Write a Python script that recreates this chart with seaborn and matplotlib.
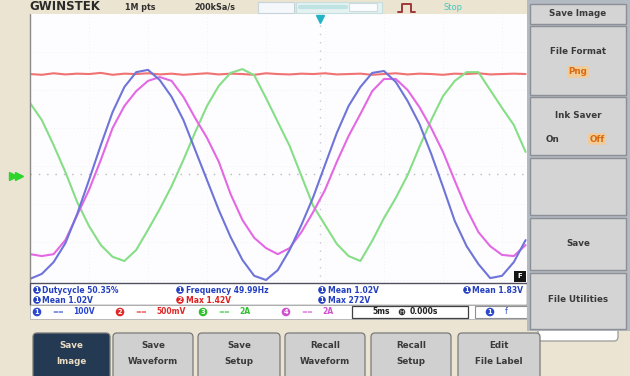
import matplotlib
matplotlib.use("Agg")
import matplotlib.pyplot as plt
import seaborn as sns
import pandas as pd
from matplotlib.patches import Rectangle, FancyBboxPatch, Circle

# ---- data (time in ms, amplitude in divisions) ----
time_ms = list(range(-25, 18))
ch1_blue = [-2.97, -2.84, -2.53, -2.03, -1.26, -0.37, 0.55, 1.42, 2.08, 2.47,
            2.53, 2.26, 1.82, 1.21, 0.42, -0.37, -1.16, -1.87, -2.47, -2.89,
            -3.00, -2.74, -2.21, -1.55, -0.82, 0.03, 0.87, 1.58, 2.08, 2.45,
            2.50, 2.21, 1.71, 1.11, 0.32, -0.55, -1.45, -2.11, -2.58, -2.95,
            -2.89, -2.53, -1.95]
ch2_red = [2.42, 2.40, 2.44, 2.41, 2.43, 2.42, 2.45, 2.40, 2.43, 2.42,
           2.44, 2.41, 2.43, 2.40, 2.42, 2.44, 2.41, 2.43, 2.42, 2.40,
           2.44, 2.42, 2.41, 2.43, 2.42, 2.44, 2.41, 2.42, 2.43, 2.40,
           2.42, 2.44, 2.41, 2.43, 2.42, 2.40, 2.43, 2.42, 2.44, 2.41,
           2.42, 2.43, 2.42]
ch3_green = [1.66, 1.21, 0.55, -0.16, -0.95, -1.58, -2.08, -2.39, -2.50, -2.21,
             -1.68, -1.13, -0.53, 0.16, 0.89, 1.58, 2.11, 2.45, 2.55, 2.39,
             1.79, 1.16, 0.53, -0.26, -1.05, -1.55, -2.05, -2.37, -2.50, -1.97,
             -1.37, -0.84, -0.24, 0.50, 1.21, 1.84, 2.24, 2.47, 2.47, 2.00,
             1.53, 1.08, 0.37]
ch4_magenta = [-2.32, -2.37, -2.32, -1.95, -1.29, -0.63, 0.16, 1.00, 1.58, 1.97,
               2.24, 2.34, 2.24, 1.82, 1.26, 0.74, 0.11, -0.74, -1.42, -1.89,
               -2.16, -2.32, -2.16, -1.74, -1.21, -0.63, 0.11, 0.79, 1.37, 1.97,
               2.29, 2.29, 2.00, 1.55, 1.00, 0.37, -0.39, -1.13, -1.74, -2.11,
               -2.34, -2.37, -2.08]

channel_names = ["CH2", "CH3", "CH4", "CH1"]
channel_colors = {"CH1": "#6e74d8", "CH2": "#f07272", "CH3": "#86de86", "CH4": "#e468e4"}

menu_title = "Save Image"
bottom_buttons = ["Save\nImage", "Save\nWaveform", "Save\nSetup",
                  "Recall\nWaveform", "Recall\nSetup", "Edit\nFile Label"]

frames = []
for name, vals in zip(channel_names, [ch2_red, ch3_green, ch4_magenta, ch1_blue]):
    frames.append(pd.DataFrame({"t": time_ms, "v": vals, "ch": name}))
df = pd.concat(frames, ignore_index=True)

sns.set_style("white")
plt.rcParams["font.family"] = ["DejaVu Sans"]

W, H = 630, 376
fig = plt.figure(figsize=(W / 100, H / 100), dpi=100)
fig.patch.set_facecolor("#ebe4d2")

ax = fig.add_axes([30 / W, 1 - 318 / H, 590 / W, 304 / H])
ax.set_facecolor("#fdfdff")
ax.set_xlim(-25, 25)
ax.set_ylim(-4, 4)
for s in ax.spines.values():
    s.set_visible(False)
ax.set_xticks([])
ax.set_yticks([])

# graticule
for gx in range(-20, 25, 5):
    ax.axvline(gx, color="#eceef4", lw=0.6, ls=(0, (1, 3)), zorder=0)
for gy in range(-3, 4):
    ax.axhline(gy, color="#eceef4", lw=0.6, ls=(0, (1, 3)), zorder=0)
ax.axhline(-0.21, color="#b8b8c0", lw=1.0, ls=(0, (1, 5)), zorder=0)
ax.axvline(-0.4, color="#c8c8d0", lw=1.0, ls=(0, (1, 5)), zorder=0)

sns.lineplot(data=df, x="t", y="v", hue="ch", hue_order=channel_names,
             palette=channel_colors, estimator=None, legend=False,
             linewidth=1.5, ax=ax)
ax.set_xlabel("")
ax.set_ylabel("")

# ---- overlay in pixel coordinates for the instrument UI ----
ov = fig.add_axes([0, 0, 1, 1], zorder=5)
ov.set_xlim(0, W)
ov.set_ylim(H, 0)
ov.axis("off")
ov.patch.set_alpha(0)

def rect(x, y, w, h, fc, ec="none", lw=0.8, z=1):
    ov.add_patch(Rectangle((x, y), w, h, facecolor=fc, edgecolor=ec, lw=lw, zorder=z))

def rbox(x, y, w, h, fc, ec="#9a9a9a", lw=0.8, z=1, r=3):
    ov.add_patch(FancyBboxPatch((x, y), w, h, boxstyle=f"round,pad=0,rounding_size={r}",
                                facecolor=fc, edgecolor=ec, lw=lw, zorder=z))

def badge(x, y, num, color, z=4, r=4.2):
    ov.add_patch(Circle((x, y), r, facecolor=color, edgecolor="none", zorder=z))
    ov.text(x, y + 0.3, num, color="white", fontsize=4.8, fontweight="bold",
            ha="center", va="center", zorder=z + 1)

# left border of the screen
ov.plot([30, 30], [14, 283], color="#8a8a8a", lw=1.0, zorder=2)

# top status bar
rect(30, 0, 497, 14, "#ebe4d0", z=2)
ov.text(29, 6.5, "GWINSTEK", fontsize=8.5, fontweight="bold", color="#2a2a2a",
        ha="left", va="center", zorder=3)
ov.text(125, 7.5, "1M pts", fontsize=5.8, fontweight="bold", color="#303030",
        ha="left", va="center", zorder=3)
ov.text(194, 7.5, "200kSa/s", fontsize=5.8, fontweight="bold", color="#303030",
        ha="left", va="center", zorder=3)
rect(258, 1.5, 36, 11, "#f4f8fb", ec="#c8d2da", z=3)
rect(296, 1.5, 86, 11, "#e4f2f2", ec="#c8dede", z=3)
ov.plot([300, 346], [7, 7], color="#bfe2e2", lw=3, zorder=3.5)
rect(349, 2.5, 28, 8, "#fafcfd", ec="#d0dada", z=3.6)
ov.plot([398, 402, 402, 411, 411, 415], [12, 12, 4, 4, 12, 12],
        color="#a03838", lw=1.4, zorder=3)
ov.text(444, 7.5, "Stop", fontsize=6, color="#42c8c0", ha="left", va="center", zorder=3)
ov.plot([320], [19], marker="v", color="#22b4c4", ms=6, zorder=3)

# channel ground marker on the left
ov.plot([13, 19], [176, 176], ls="none", marker=">", color="#2cd42c", ms=5.5, zorder=3)

# measurement panel
rect(30, 283, 497, 22, "white", ec="#505060", lw=1.0, z=2)
blue_t, red_t = "#2440c0", "#e02020"
meas = [(37, 290, "1", blue_t, "Dutycycle 50.35%"),
        (180, 290, "1", blue_t, "Frequency 49.99Hz"),
        (322, 290, "1", blue_t, "Mean 1.02V"),
        (467, 290, "1", blue_t, "Mean 1.83V"),
        (37, 300, "1", blue_t, "Mean 1.02V"),
        (180, 300, "2", red_t, "Max 1.42V"),
        (322, 300, "1", blue_t, "Max 272V")]
for x, y, n, c, t in meas:
    badge(x, y, n, c, r=3.8)
    ov.text(x + 5.5, y + 0.3, t, fontsize=5.5, fontweight="bold", color=c,
            ha="left", va="center", zorder=4)

# channel status row
rect(30, 305, 497, 14, "white", ec="#b0b0b0", lw=0.6, z=2)
chans = [(37, "1", "#2a48d0", "100V"), (120, "2", "#e02828", "500mV"),
         (203, "3", "#30c030", "2A"), (286, "4", "#d050d0", "2A")]
for x, n, c, lab in chans:
    badge(x, 312, n, c, r=4.3)
    ov.text(x + 15, 312, "==", fontsize=5, color=c, ha="left", va="center", zorder=4)
    ov.text(x + 36, 312, lab, fontsize=5.5, fontweight="bold", color=c,
            ha="left", va="center", zorder=4)
rect(352, 306, 116, 12, "white", ec="#404040", lw=0.9, z=3)
ov.text(372, 312, "5ms", fontsize=5.5, fontweight="bold", color="#202020",
        ha="left", va="center", zorder=4)
ov.add_patch(Circle((402, 312), 4, facecolor="#303030", zorder=4))
ov.text(402, 312.3, "H", fontsize=4.5, color="white", ha="center", va="center", zorder=5)
ov.text(410, 312, "0.000s", fontsize=5.5, fontweight="bold", color="#202020",
        ha="left", va="center", zorder=4)
rect(475, 306, 52, 12, "white", ec="#909090", lw=0.8, z=3)
badge(490, 312, "1", "#2a48d0", r=4.3)
ov.text(505, 312, "f", fontsize=5.5, color="#2a48d0", ha="left", va="center", zorder=4)

# small F icon
rect(514, 271, 12, 11, "#151515", z=3)
ov.text(520, 276.5, "F", fontsize=5, color="white", ha="center", va="center",
        fontweight="bold", zorder=4)

# right side menu
rect(527, 0, 103, 331, "#b4bac2", z=6)
menu_boxes = [(4, 20), (26, 69), (97, 58), (158, 57), (218, 52), (273, 56)]
for y, h in menu_boxes:
    rect(530, y, 96, h, "#d4d4d4", ec="#8c9096", lw=1.0, z=7)
ov.text(578, 14, menu_title, fontsize=6.3, fontweight="bold", color="#3a3a3a",
        ha="center", va="center", zorder=8)
ov.text(578, 52, "File Format", fontsize=6.3, fontweight="bold", color="#3a3a3a",
        ha="center", va="center", zorder=8)
ov.text(578, 72, "Png", fontsize=6.3, fontweight="bold", color="#d86a10",
        ha="center", va="center", zorder=8,
        bbox=dict(boxstyle="round,pad=0.15", fc="#f2cc98", ec="none"))
ov.text(578, 115, "Ink Saver", fontsize=6.3, fontweight="bold", color="#3a3a3a",
        ha="center", va="center", zorder=8)
ov.text(552, 139, "On", fontsize=6.3, fontweight="bold", color="#3a3a3a",
        ha="center", va="center", zorder=8)
ov.text(597, 139, "Off", fontsize=6.3, fontweight="bold", color="#d86a10",
        ha="center", va="center", zorder=8,
        bbox=dict(boxstyle="round,pad=0.15", fc="#f2cc98", ec="none"))
ov.text(578, 243, "Save", fontsize=6.3, fontweight="bold", color="#3a3a3a",
        ha="center", va="center", zorder=8)
ov.text(578, 299, "File Utilities", fontsize=6.3, fontweight="bold", color="#3a3a3a",
        ha="center", va="center", zorder=8)

# bottom soft-key buttons
btn_x = [33, 113, 198, 285, 371, 458]
btn_w = [77, 80, 82, 80, 80, 82]
for i, (bx, bw, label) in enumerate(zip(btn_x, btn_w, bottom_buttons)):
    active = i == 0
    rbox(bx, 333, bw, 48, "#233a52" if active else "#d0d0d0",
         ec="#7a7a7a", lw=0.9, z=2, r=4)
    l1, l2 = label.split("\n")
    col = "#eadcc2" if active else "#3a3a3a"
    ov.text(bx + bw / 2, 345, l1, fontsize=6.3, fontweight="bold", color=col,
            ha="center", va="center", zorder=3)
    ov.text(bx + bw / 2, 362, l2, fontsize=6.3, fontweight="bold", color=col,
            ha="center", va="center", zorder=3)
rbox(538, 319, 80, 22, "white", ec="#9a9a9a", lw=0.9, z=1, r=4)

fig.savefig("out.png", dpi=100, facecolor=fig.get_facecolor())
